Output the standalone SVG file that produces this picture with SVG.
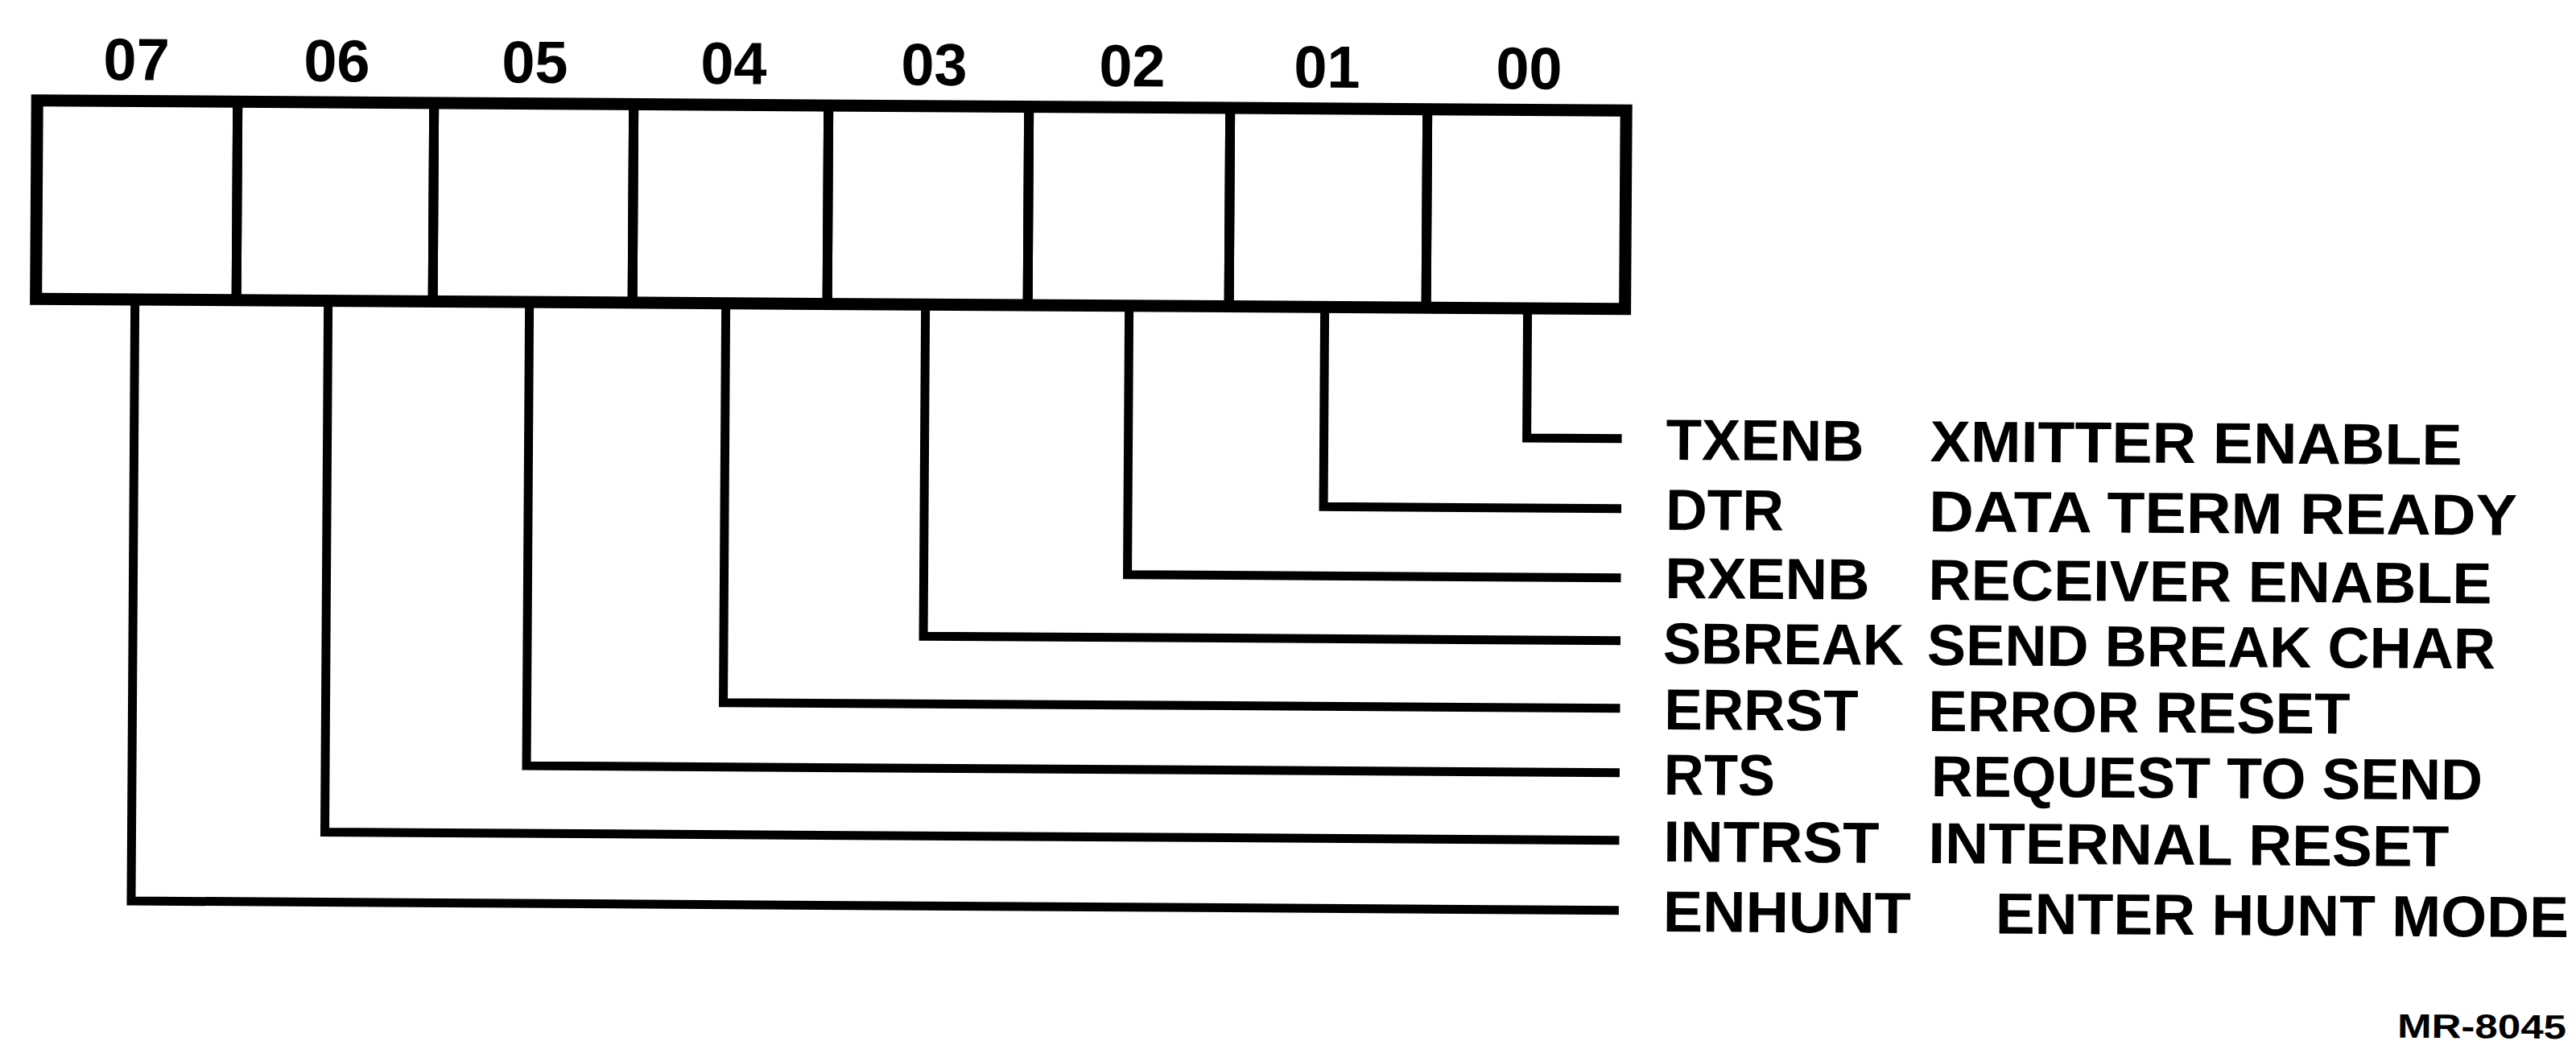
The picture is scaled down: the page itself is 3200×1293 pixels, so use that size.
<svg xmlns="http://www.w3.org/2000/svg" width="3200" height="1293" viewBox="0 0 3200 1293">
<style>
.cell{fill:none;stroke:#000;stroke-width:12}
.frame{fill:none;stroke:#000;stroke-width:15;stroke-linejoin:miter}
.bitno{font-family:"Liberation Sans",Arial,sans-serif;font-weight:bold;font-size:74px;fill:#000;text-anchor:middle}
.lbl{font-family:"Liberation Sans",Arial,sans-serif;font-weight:bold;font-size:72px;fill:#000}
.conn{fill:none;stroke:#000;stroke-width:11;stroke-linejoin:miter;stroke-linecap:butt}
.ref{font-family:"Liberation Sans",Arial,sans-serif;font-weight:bold;font-size:42px;fill:#000}
</style>
<rect width="3200" height="1293" fill="#fff"/>
<g transform="rotate(0.36 0 0)">
  <g id="register">
    <g id="bit07"><rect class="cell" x="47" y="124.5" width="249" height="246.5"/><text class="bitno" x="170" y="98.5">07</text></g>
    <g id="bit06"><rect class="cell" x="296" y="124.5" width="244" height="246.5"/><text class="bitno" x="419" y="98.5">06</text></g>
    <g id="bit05"><rect class="cell" x="540" y="124.5" width="248" height="246.5"/><text class="bitno" x="665" y="98.5">05</text></g>
    <g id="bit04"><rect class="cell" x="788" y="124.5" width="242" height="246.5"/><text class="bitno" x="912" y="98.5">04</text></g>
    <g id="bit03"><rect class="cell" x="1030" y="124.5" width="249" height="246.5"/><text class="bitno" x="1161" y="98.5">03</text></g>
    <g id="bit02"><rect class="cell" x="1279" y="124.5" width="250" height="246.5"/><text class="bitno" x="1407" y="98.5">02</text></g>
    <g id="bit01"><rect class="cell" x="1529" y="124.5" width="245" height="246.5"/><text class="bitno" x="1649" y="98.5">01</text></g>
    <g id="bit00"><rect class="cell" x="1774" y="124.5" width="247" height="246.5"/><text class="bitno" x="1900" y="98.5">00</text></g>
    <rect class="frame" x="47" y="124.5" width="1974" height="246.5"/>
  </g>
  <g id="connectors">
    <path class="conn" d="M1900 371 V532 H2018"/>
    <path class="conn" d="M1648 371 V619 H2018"/>
    <path class="conn" d="M1405 371 V705 H2018"/>
    <path class="conn" d="M1152 371 V783 H2018"/>
    <path class="conn" d="M904 371 V867 H2018"/>
    <path class="conn" d="M660 371 V947 H2018"/>
    <path class="conn" d="M410 371 V1031 H2018"/>
    <path class="conn" d="M170 371 V1118 H2018"/>
  </g>
  <g id="field-txenb"><text class="lbl" x="2073" y="558" textLength="246" lengthAdjust="spacingAndGlyphs">TXENB</text><text class="lbl" x="2401" y="558" textLength="661" lengthAdjust="spacingAndGlyphs">XMITTER ENABLE</text></g>
  <g id="field-dtr"><text class="lbl" x="2073" y="645" textLength="147" lengthAdjust="spacingAndGlyphs">DTR</text><text class="lbl" x="2400" y="645" textLength="731" lengthAdjust="spacingAndGlyphs">DATA TERM READY</text></g>
  <g id="field-rxenb"><text class="lbl" x="2073" y="730" textLength="254" lengthAdjust="spacingAndGlyphs">RXENB</text><text class="lbl" x="2400" y="730" textLength="700" lengthAdjust="spacingAndGlyphs">RECEIVER ENABLE</text></g>
  <g id="field-sbreak"><text class="lbl" x="2071" y="811" textLength="299" lengthAdjust="spacingAndGlyphs">SBREAK</text><text class="lbl" x="2399" y="811" textLength="706" lengthAdjust="spacingAndGlyphs">SEND BREAK CHAR</text></g>
  <g id="field-errst"><text class="lbl" x="2073" y="893" textLength="241" lengthAdjust="spacingAndGlyphs">ERRST</text><text class="lbl" x="2401" y="893" textLength="524" lengthAdjust="spacingAndGlyphs">ERROR RESET</text></g>
  <g id="field-rts"><text class="lbl" x="2073" y="974" textLength="138" lengthAdjust="spacingAndGlyphs">RTS</text><text class="lbl" x="2405" y="974" textLength="685" lengthAdjust="spacingAndGlyphs">REQUEST TO SEND</text></g>
  <g id="field-intrst"><text class="lbl" x="2073" y="1057" textLength="268" lengthAdjust="spacingAndGlyphs">INTRST</text><text class="lbl" x="2402" y="1057" textLength="647" lengthAdjust="spacingAndGlyphs">INTERNAL RESET</text></g>
  <g id="field-enhunt"><text class="lbl" x="2073" y="1144" textLength="308" lengthAdjust="spacingAndGlyphs">ENHUNT</text><text class="lbl" x="2486" y="1144" textLength="712" lengthAdjust="spacingAndGlyphs">ENTER HUNT MODE</text></g>
  <text class="ref" x="2986" y="1270" textLength="210" lengthAdjust="spacingAndGlyphs">MR-8045</text>
</g>
</svg>
